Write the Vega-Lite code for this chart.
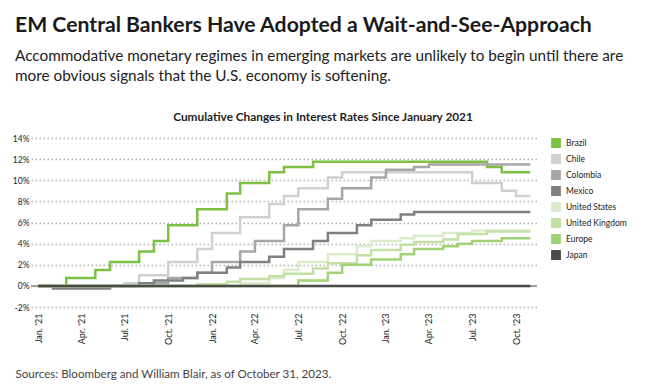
{
  "$schema": "https://vega.github.io/schema/vega-lite/v6.json",
  "autosize": {"type": "none"},
  "width": 506,
  "height": 169,
  "padding": {"left": 31, "top": 138, "right": 108, "bottom": 81},
  "background": "white",
  "config": {"font": "Lato", "view": {"stroke": null}},
  "title": {
    "text": "EM Central Bankers Have Adopted a Wait-and-See-Approach",
    "subtitle": ["Accommodative monetary regimes in emerging markets are unlikely to begin until there are", "more obvious signals that the U.S. economy is softening."],
    "anchor": "start",
    "frame": "group",
    "dx": -16,
    "offset": 27,
    "font": "Lato",
    "fontSize": 21.2,
    "fontWeight": "bold",
    "color": "#1a1a1a",
    "subtitleFont": "Lato",
    "subtitleFontSize": 15.3,
    "subtitleColor": "#222222",
    "subtitleLineHeight": 19.5,
    "subtitlePadding": 13
  },
  "data": {
    "values": [
      {"series": "Brazil", "date": "2021-01-01", "value": 0},
      {"series": "Brazil", "date": "2021-03-01", "value": 0.75},
      {"series": "Brazil", "date": "2021-05-01", "value": 1.5},
      {"series": "Brazil", "date": "2021-06-01", "value": 2.25},
      {"series": "Brazil", "date": "2021-08-01", "value": 3.25},
      {"series": "Brazil", "date": "2021-09-01", "value": 4.25},
      {"series": "Brazil", "date": "2021-10-01", "value": 5.75},
      {"series": "Brazil", "date": "2021-12-01", "value": 7.25},
      {"series": "Brazil", "date": "2022-02-01", "value": 8.75},
      {"series": "Brazil", "date": "2022-03-01", "value": 9.75},
      {"series": "Brazil", "date": "2022-05-01", "value": 10.75},
      {"series": "Brazil", "date": "2022-06-01", "value": 11.25},
      {"series": "Brazil", "date": "2022-08-01", "value": 11.75},
      {"series": "Brazil", "date": "2023-08-01", "value": 11.25},
      {"series": "Brazil", "date": "2023-09-01", "value": 10.75},
      {"series": "Brazil", "date": "2023-10-31", "value": 10.75},
      {"series": "Chile", "date": "2021-01-01", "value": 0},
      {"series": "Chile", "date": "2021-07-01", "value": 0.25},
      {"series": "Chile", "date": "2021-08-01", "value": 1.0},
      {"series": "Chile", "date": "2021-10-01", "value": 2.25},
      {"series": "Chile", "date": "2021-12-01", "value": 3.5},
      {"series": "Chile", "date": "2022-01-01", "value": 5.0},
      {"series": "Chile", "date": "2022-03-01", "value": 6.5},
      {"series": "Chile", "date": "2022-05-01", "value": 7.75},
      {"series": "Chile", "date": "2022-06-01", "value": 8.5},
      {"series": "Chile", "date": "2022-07-01", "value": 9.25},
      {"series": "Chile", "date": "2022-09-01", "value": 10.25},
      {"series": "Chile", "date": "2022-10-01", "value": 10.75},
      {"series": "Chile", "date": "2023-07-01", "value": 9.75},
      {"series": "Chile", "date": "2023-09-01", "value": 9.0},
      {"series": "Chile", "date": "2023-10-01", "value": 8.5},
      {"series": "Chile", "date": "2023-10-31", "value": 8.5},
      {"series": "Colombia", "date": "2021-01-01", "value": 0},
      {"series": "Colombia", "date": "2021-09-01", "value": 0.25},
      {"series": "Colombia", "date": "2021-10-01", "value": 0.75},
      {"series": "Colombia", "date": "2021-12-01", "value": 1.25},
      {"series": "Colombia", "date": "2022-01-01", "value": 2.25},
      {"series": "Colombia", "date": "2022-03-01", "value": 3.25},
      {"series": "Colombia", "date": "2022-04-01", "value": 4.25},
      {"series": "Colombia", "date": "2022-06-01", "value": 5.75},
      {"series": "Colombia", "date": "2022-07-01", "value": 7.25},
      {"series": "Colombia", "date": "2022-09-01", "value": 8.25},
      {"series": "Colombia", "date": "2022-10-01", "value": 9.25},
      {"series": "Colombia", "date": "2022-12-01", "value": 10.25},
      {"series": "Colombia", "date": "2023-01-01", "value": 11.0},
      {"series": "Colombia", "date": "2023-03-01", "value": 11.25},
      {"series": "Colombia", "date": "2023-04-01", "value": 11.5},
      {"series": "Colombia", "date": "2023-10-31", "value": 11.5},
      {"series": "Mexico", "date": "2021-01-01", "value": 0},
      {"series": "Mexico", "date": "2021-02-01", "value": -0.25},
      {"series": "Mexico", "date": "2021-06-01", "value": 0},
      {"series": "Mexico", "date": "2021-08-01", "value": 0.25},
      {"series": "Mexico", "date": "2021-09-01", "value": 0.5},
      {"series": "Mexico", "date": "2021-11-01", "value": 0.75},
      {"series": "Mexico", "date": "2021-12-01", "value": 1.25},
      {"series": "Mexico", "date": "2022-02-01", "value": 1.75},
      {"series": "Mexico", "date": "2022-03-01", "value": 2.25},
      {"series": "Mexico", "date": "2022-05-01", "value": 2.75},
      {"series": "Mexico", "date": "2022-06-01", "value": 3.5},
      {"series": "Mexico", "date": "2022-08-01", "value": 4.25},
      {"series": "Mexico", "date": "2022-09-01", "value": 5.0},
      {"series": "Mexico", "date": "2022-11-01", "value": 5.75},
      {"series": "Mexico", "date": "2022-12-01", "value": 6.25},
      {"series": "Mexico", "date": "2023-02-01", "value": 6.75},
      {"series": "Mexico", "date": "2023-03-01", "value": 7.0},
      {"series": "Mexico", "date": "2023-10-31", "value": 7.0},
      {"series": "United States", "date": "2021-01-01", "value": 0},
      {"series": "United States", "date": "2022-03-01", "value": 0.25},
      {"series": "United States", "date": "2022-05-01", "value": 0.75},
      {"series": "United States", "date": "2022-06-01", "value": 1.5},
      {"series": "United States", "date": "2022-07-01", "value": 2.25},
      {"series": "United States", "date": "2022-09-01", "value": 3.0},
      {"series": "United States", "date": "2022-11-01", "value": 3.75},
      {"series": "United States", "date": "2022-12-01", "value": 4.25},
      {"series": "United States", "date": "2023-02-01", "value": 4.5},
      {"series": "United States", "date": "2023-03-01", "value": 4.75},
      {"series": "United States", "date": "2023-05-01", "value": 5.0},
      {"series": "United States", "date": "2023-07-01", "value": 5.25},
      {"series": "United States", "date": "2023-10-31", "value": 5.25},
      {"series": "United Kingdom", "date": "2021-01-01", "value": 0},
      {"series": "United Kingdom", "date": "2021-12-01", "value": 0.15},
      {"series": "United Kingdom", "date": "2022-02-01", "value": 0.4},
      {"series": "United Kingdom", "date": "2022-03-01", "value": 0.65},
      {"series": "United Kingdom", "date": "2022-05-01", "value": 0.9},
      {"series": "United Kingdom", "date": "2022-06-01", "value": 1.15},
      {"series": "United Kingdom", "date": "2022-08-01", "value": 1.65},
      {"series": "United Kingdom", "date": "2022-09-01", "value": 2.15},
      {"series": "United Kingdom", "date": "2022-11-01", "value": 2.9},
      {"series": "United Kingdom", "date": "2022-12-01", "value": 3.4},
      {"series": "United Kingdom", "date": "2023-02-01", "value": 3.9},
      {"series": "United Kingdom", "date": "2023-03-01", "value": 4.15},
      {"series": "United Kingdom", "date": "2023-05-01", "value": 4.4},
      {"series": "United Kingdom", "date": "2023-06-01", "value": 4.9},
      {"series": "United Kingdom", "date": "2023-08-01", "value": 5.15},
      {"series": "United Kingdom", "date": "2023-10-31", "value": 5.15},
      {"series": "Europe", "date": "2021-01-01", "value": 0},
      {"series": "Europe", "date": "2022-07-01", "value": 0.5},
      {"series": "Europe", "date": "2022-09-01", "value": 1.25},
      {"series": "Europe", "date": "2022-10-01", "value": 2.0},
      {"series": "Europe", "date": "2022-12-01", "value": 2.5},
      {"series": "Europe", "date": "2023-02-01", "value": 3.0},
      {"series": "Europe", "date": "2023-03-01", "value": 3.5},
      {"series": "Europe", "date": "2023-05-01", "value": 3.75},
      {"series": "Europe", "date": "2023-06-01", "value": 4.0},
      {"series": "Europe", "date": "2023-07-01", "value": 4.25},
      {"series": "Europe", "date": "2023-09-01", "value": 4.5},
      {"series": "Europe", "date": "2023-10-31", "value": 4.5},
      {"series": "Japan", "date": "2021-01-01", "value": 0},
      {"series": "Japan", "date": "2023-10-31", "value": 0}
    ]
  },
  "encoding": {
    "y": {
      "field": "value",
      "type": "quantitative",
      "scale": {"domain": [-2, 14], "nice": false, "zero": false},
      "axis": {
        "values": [-2, 0, 2, 4, 6, 8, 10, 12, 14],
        "labelExpr": "datum.value + '%'",
        "title": "Cumulative Changes in Interest Rates Since January 2021",
        "titleAngle": 0,
        "titleX": 291.5,
        "titleY": -18,
        "titleAlign": "center",
        "titleBaseline": "alphabetic",
        "titleFont": "Lato",
        "titleFontSize": 11.8,
        "titleFontWeight": "bold",
        "titleColor": "#222222",
        "domain": false,
        "ticks": false,
        "labelFont": "Lato",
        "labelFontSize": 8.5,
        "labelColor": "#222222",
        "labelPadding": 2,
        "grid": true,
        "gridDash": [1.5, 2.5],
        "gridColor": "#b0b0b0",
        "gridWidth": 1.6
      }
    }
  },
  "layer": [
    {
      "data": {"values": [{"value": 0}]},
      "mark": {"type": "rule", "color": "#a0a0a0", "strokeWidth": 2},
      "encoding": {}
    },
    {
      "mark": {"type": "line", "interpolate": "step-after", "strokeWidth": 2.5},
      "encoding": {
        "x": {
          "field": "date",
          "type": "temporal",
          "scale": {"type": "utc", "domain": [{"year": 2020, "month": 12, "date": 17, "utc": true}, {"year": 2023, "month": 11, "date": 14, "utc": true}]},
          "axis": {
            "values": [
              {"year": 2021, "month": 1, "date": 1, "utc": true},
              {"year": 2021, "month": 4, "date": 1, "utc": true},
              {"year": 2021, "month": 7, "date": 1, "utc": true},
              {"year": 2021, "month": 10, "date": 1, "utc": true},
              {"year": 2022, "month": 1, "date": 1, "utc": true},
              {"year": 2022, "month": 4, "date": 1, "utc": true},
              {"year": 2022, "month": 7, "date": 1, "utc": true},
              {"year": 2022, "month": 10, "date": 1, "utc": true},
              {"year": 2023, "month": 1, "date": 1, "utc": true},
              {"year": 2023, "month": 4, "date": 1, "utc": true},
              {"year": 2023, "month": 7, "date": 1, "utc": true},
              {"year": 2023, "month": 10, "date": 1, "utc": true}
            ],
            "labelExpr": "utcFormat(datum.value, \"%b. '%y\")",
            "labelAngle": -90,
            "labelFont": "Lato",
            "labelFontSize": 9,
            "labelColor": "#222222",
            "labelPadding": 6,
            "grid": false,
            "domain": false,
            "ticks": false,
            "title": "Sources: Bloomberg and William Blair, as of October 31, 2023.",
            "titleX": -16,
            "titleY": 70,
            "titleAlign": "left",
            "titleAnchor": "start",
            "titleBaseline": "alphabetic",
            "titleFont": "Lato",
            "titleFontSize": 11.6,
            "titleFontWeight": "normal",
            "titleColor": "#444444"
          }
        },
        "color": {
          "field": "series",
          "type": "nominal",
          "scale": {
            "domain": ["Brazil", "Chile", "Colombia", "Mexico", "United States", "United Kingdom", "Europe", "Japan"],
            "range": ["#7cc142", "#d0d0d0", "#a6a6a6", "#808080", "#dcebcc", "#c3e0a6", "#a2d276", "#4a4a4a"]
          },
          "legend": {
            "orient": "right",
            "offset": 14,
            "title": null,
            "labelFont": "Lato",
            "labelFontSize": 8.5,
            "labelColor": "#222222",
            "labelOffset": 5,
            "symbolType": "square",
            "symbolSize": 69,
            "rowPadding": 0,
            "encode": {
              "symbols": {
                "update": {
                  "fill": {"scale": "color", "field": "value"},
                  "stroke": {"value": "transparent"},
                  "shape": {"value": "square"}
                }
              }
            }
          }
        }
      }
    }
  ]
}
